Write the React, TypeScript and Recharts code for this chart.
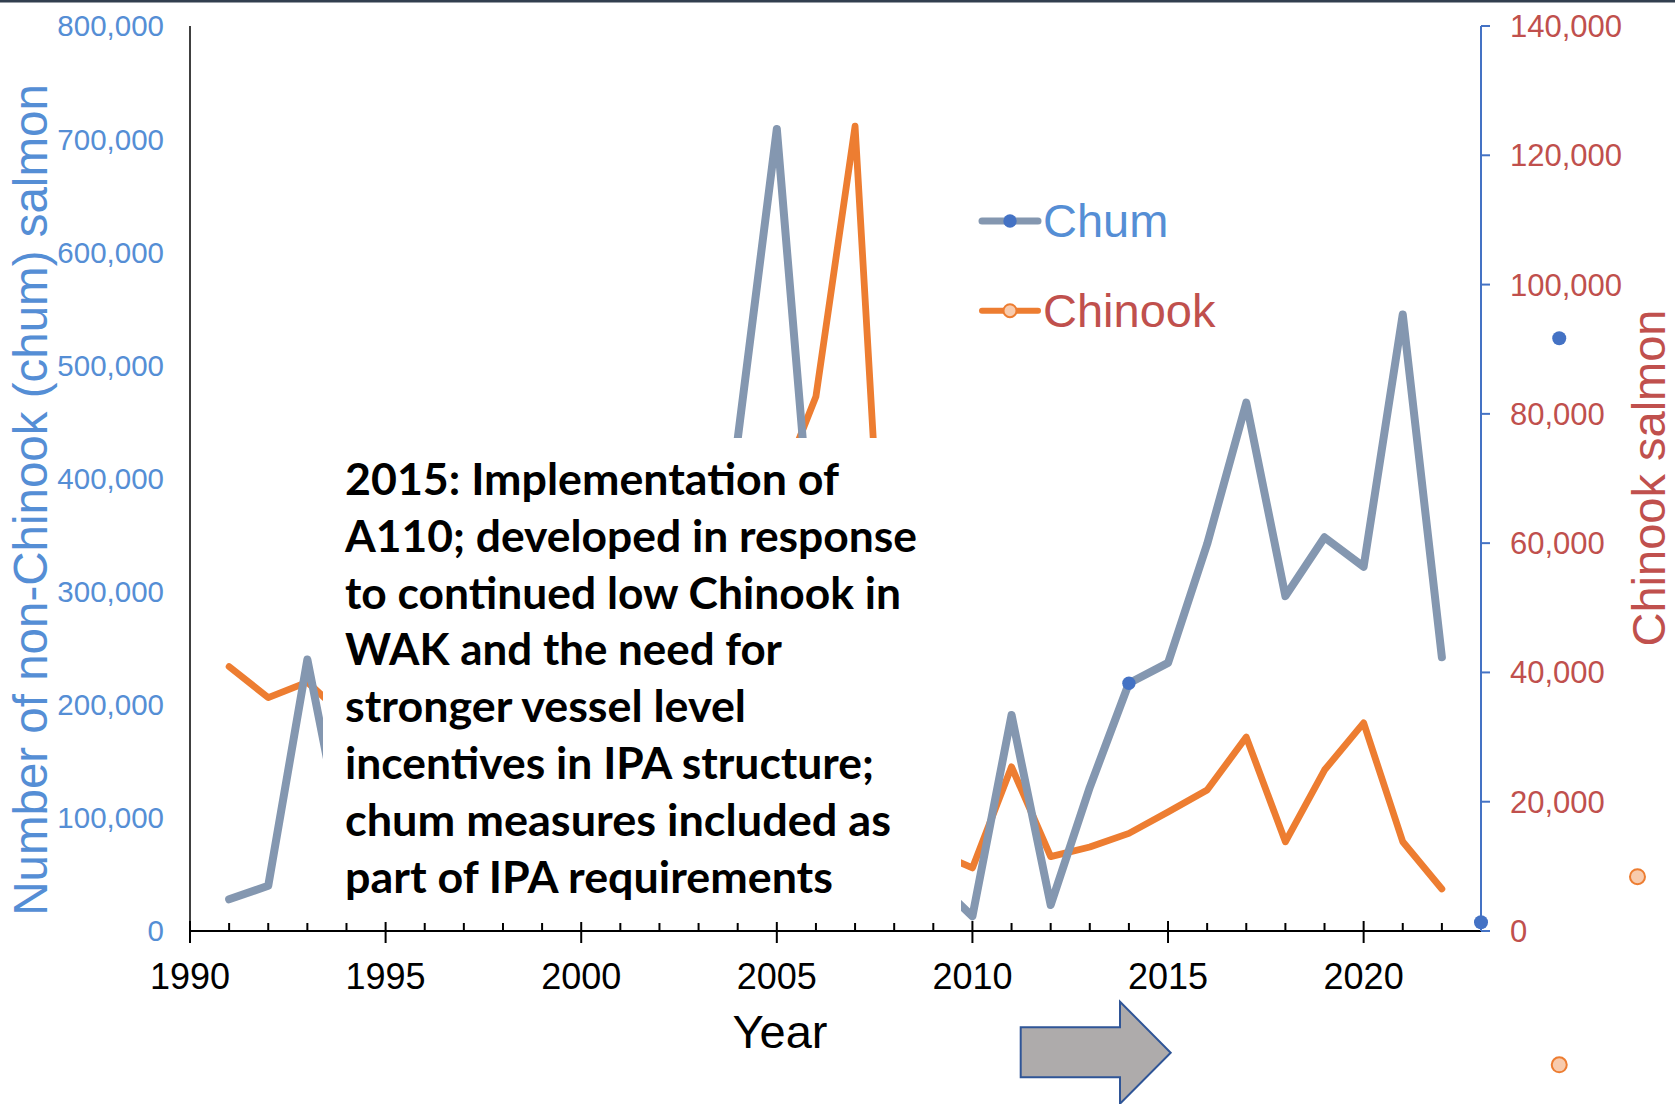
import React from 'react';
import { LineChart, Line, XAxis, YAxis, ReferenceDot } from 'recharts';

// ---- data ----
const years = [1991, 1992, 1993, 1994, 1995, 1996, 1997, 1998, 1999, 2000, 2001, 2002, 2003, 2004, 2005, 2006,
  2007, 2008, 2009, 2010, 2011, 2012, 2013, 2014, 2015, 2016, 2017, 2018, 2019, 2020, 2021, 2022];
const chumValues = [28000, 40000, 240000, 65000, 20000, 77000, 66000, 64000, 45000, 58000, 57000, 81000, 189000,
  435000, 709000, 295000, 94000, 15000, 46000, 13000, 191000, 23000, 127000, 219000, 237000, 342000, 467000,
  296000, 348000, 322000, 545000, 242000];
const chinookValues = [40900, 36100, 38500, 33000, 15000, 55600, 44900, 51300, 12000, 5000, 33400, 34500, 45600,
  51700, 67400, 82700, 124500, 20500, 12400, 9750, 25400, 11500, 13000, 15100, 18400, 21800, 30000, 13800,
  24900, 32200, 13800, 6500];
const leftTicks = [0, 100000, 200000, 300000, 400000, 500000, 600000, 700000, 800000];
const rightTicks = [0, 20000, 40000, 60000, 80000, 100000, 120000, 140000];
const yearTicks = [1990, 1991, 1992, 1993, 1994, 1995, 1996, 1997, 1998, 1999, 2000, 2001, 2002, 2003, 2004,
  2005, 2006, 2007, 2008, 2009, 2010, 2011, 2012, 2013, 2014, 2015, 2016, 2017, 2018, 2019, 2020, 2021, 2022];
const majorYears = [1990, 1995, 2000, 2005, 2010, 2015, 2020];
const markedChumYears = [2014];
const strayDots = [
  { year: 2023, value: 7700, axis: 'left', series: 'chum' },
  { year: 2025, value: 524000, axis: 'left', series: 'chum' },
  { year: 2027, value: 8400, axis: 'right', series: 'chinook' },
  { year: 2025, value: -20700, axis: 'right', series: 'chinook' },
];
const noteLines = [
  '2015: Implementation of',
  'A110; developed in response',
  'to continued low Chinook in',
  'WAK and the need for',
  'stronger vessel level',
  'incentives in IPA structure;',
  'chum measures included as',
  'part of IPA requirements',
];
const noteWidths = [494, 572, 556, 437, 401, 529, 546, 488];

const rows = years.map((y, i) => ({ year: y, chum: chumValues[i], chinook: chinookValues[i] }));

// ---- styles ----
const CHUM_LINE = '#8497B0';
const CHUM_DOT = '#4472C4';
const CHINOOK_LINE = '#ED7D31';
const CHINOOK_DOT = '#F8CBAD';
const LEFT_TEXT = '#558ED5';
const RIGHT_TEXT = '#C0504D';
const ARIAL = '"Liberation Sans", Arial, sans-serif';

const fmt = (v: number) => v.toLocaleString('en-US');

const XTick = (props: any) => {
  const { x, y, payload } = props;
  const v = payload.value;
  const major = majorYears.includes(v);
  return (
    <g>
      <line x1={x} x2={x} y1={major ? y - 10 : y - 8} y2={major ? y + 12 : y} stroke="#000" strokeWidth={2} />
      {major && (
        <text x={x} y={y + 58} textAnchor="middle" fontSize={36} fontFamily={ARIAL} fill="#000">
          {v}
        </text>
      )}
    </g>
  );
};

const chumDot = (props: any) => {
  const { cx, cy, payload, index } = props;
  if (markedChumYears.includes(payload.year)) {
    return <circle key={`cd-${index}`} cx={cx} cy={cy} r={6.7} fill={CHUM_DOT} />;
  }
  return <g key={`cd-${index}`} />;
};

export default function App() {
  return (
    <div style={{ position: 'absolute', left: 0, top: 0, width: 1675, height: 1104, background: '#fff', overflow: 'hidden' }}>
      <LineChart width={1675} height={1104} data={rows} margin={{ top: 26, right: 0, bottom: 0, left: 0 }}>
        <XAxis
          dataKey="year"
          type="number"
          domain={[1990, 2023]}
          ticks={yearTicks}
          interval={0}
          tick={(p: any) => <XTick {...p} />}
          tickLine={false}
          tickSize={0}
          tickMargin={0}
          height={173}
          axisLine={{ stroke: '#000', strokeWidth: 2 }}
          allowDataOverflow
        />
        <YAxis
          yAxisId="left"
          orientation="left"
          width={190}
          domain={[0, 800000]}
          ticks={leftTicks}
          interval={0}
          tickFormatter={fmt}
          tick={{ fill: LEFT_TEXT, fontSize: 29.5, fontFamily: ARIAL }}
          tickLine={false}
          tickSize={0}
          tickMargin={26}
          axisLine={{ stroke: '#000', strokeWidth: 1.5 }}
          allowDataOverflow
        />
        <YAxis
          yAxisId="right"
          orientation="right"
          width={194}
          domain={[0, 140000]}
          ticks={rightTicks}
          interval={0}
          tickFormatter={fmt}
          tick={{ fill: RIGHT_TEXT, fontSize: 31, fontFamily: ARIAL }}
          tickLine={{ stroke: CHUM_DOT, strokeWidth: 2 }}
          tickSize={9}
          tickMargin={20}
          axisLine={{ stroke: CHUM_DOT, strokeWidth: 2 }}
          allowDataOverflow
        />
        <Line
          yAxisId="right"
          dataKey="chinook"
          stroke={CHINOOK_LINE}
          strokeWidth={6.8}
          strokeLinejoin="round"
          strokeLinecap="round"
          dot={false}
          activeDot={false}
          isAnimationActive={false}
        />
        <Line
          yAxisId="left"
          dataKey="chum"
          stroke={CHUM_LINE}
          strokeWidth={8}
          strokeLinejoin="round"
          strokeLinecap="round"
          dot={chumDot}
          activeDot={false}
          isAnimationActive={false}
        />
        {strayDots.map((d, i) => (
          <ReferenceDot
            key={`sd-${i}`}
            x={d.year}
            y={d.value}
            yAxisId={d.axis}
            r={d.series === 'chum' ? 7 : 7.5}
            fill={d.series === 'chum' ? CHUM_DOT : CHINOOK_DOT}
            stroke={d.series === 'chum' ? 'none' : CHINOOK_LINE}
            strokeWidth={2}
            ifOverflow="visible"
          />
        ))}
      </LineChart>
      <svg
        width={1675}
        height={1104}
        style={{ position: 'absolute', left: 0, top: 0, pointerEvents: 'none' }}
      >
        <rect x={0} y={0} width={1675} height={2.5} fill="#323F4F" />
        <rect x={323} y={438} width={638} height={484} fill="#fff" />
        {noteLines.map((t, i) => (
          <text
            key={i}
            x={345}
            y={495 + i * 56.8}
            fontSize={43}
            fontWeight={700}
            fontFamily='Lato, "Open Sans", sans-serif'
            fill="#000"
            textLength={noteWidths[i]}
            lengthAdjust="spacingAndGlyphs"
          >
            {t}
          </text>
        ))}
        <text
          transform="translate(46.7,500) rotate(-90)"
          textAnchor="middle"
          fontSize={47.5}
          fontFamily={ARIAL}
          fill={LEFT_TEXT}
        >
          Number of non-Chinook (chum) salmon
        </text>
        <text
          transform="translate(1665,478) rotate(-90)"
          textAnchor="middle"
          fontSize={47}
          fontFamily={ARIAL}
          fill={RIGHT_TEXT}
        >
          Chinook salmon
        </text>
        <text x={780} y={1048} textAnchor="middle" fontSize={47} fontFamily={ARIAL} fill="#000">
          Year
        </text>
        {/* legend */}
        <line x1={982} x2={1038} y1={221} y2={221} stroke={CHUM_LINE} strokeWidth={7} strokeLinecap="round" />
        <circle cx={1010} cy={221} r={6.7} fill={CHUM_DOT} />
        <text x={1043} y={237} fontSize={47} fontFamily={ARIAL} fill={LEFT_TEXT}>Chum</text>
        <line x1={982} x2={1038} y1={310.7} y2={310.7} stroke={CHINOOK_LINE} strokeWidth={6} strokeLinecap="round" />
        <circle cx={1010} cy={310.7} r={6.5} fill={CHINOOK_DOT} stroke={CHINOOK_LINE} strokeWidth={2} />
        <text x={1043} y={326.5} fontSize={47} fontFamily={ARIAL} fill={RIGHT_TEXT}>Chinook</text>
        {/* arrow */}
        <polygon
          points="1020.7,1027.3 1120,1027.3 1120,1001.7 1170.7,1052.7 1120,1103.7 1120,1077.3 1020.7,1077.3"
          fill="#AEABAB"
          stroke="#2F5597"
          strokeWidth={2}
        />
      </svg>
    </div>
  );
}
